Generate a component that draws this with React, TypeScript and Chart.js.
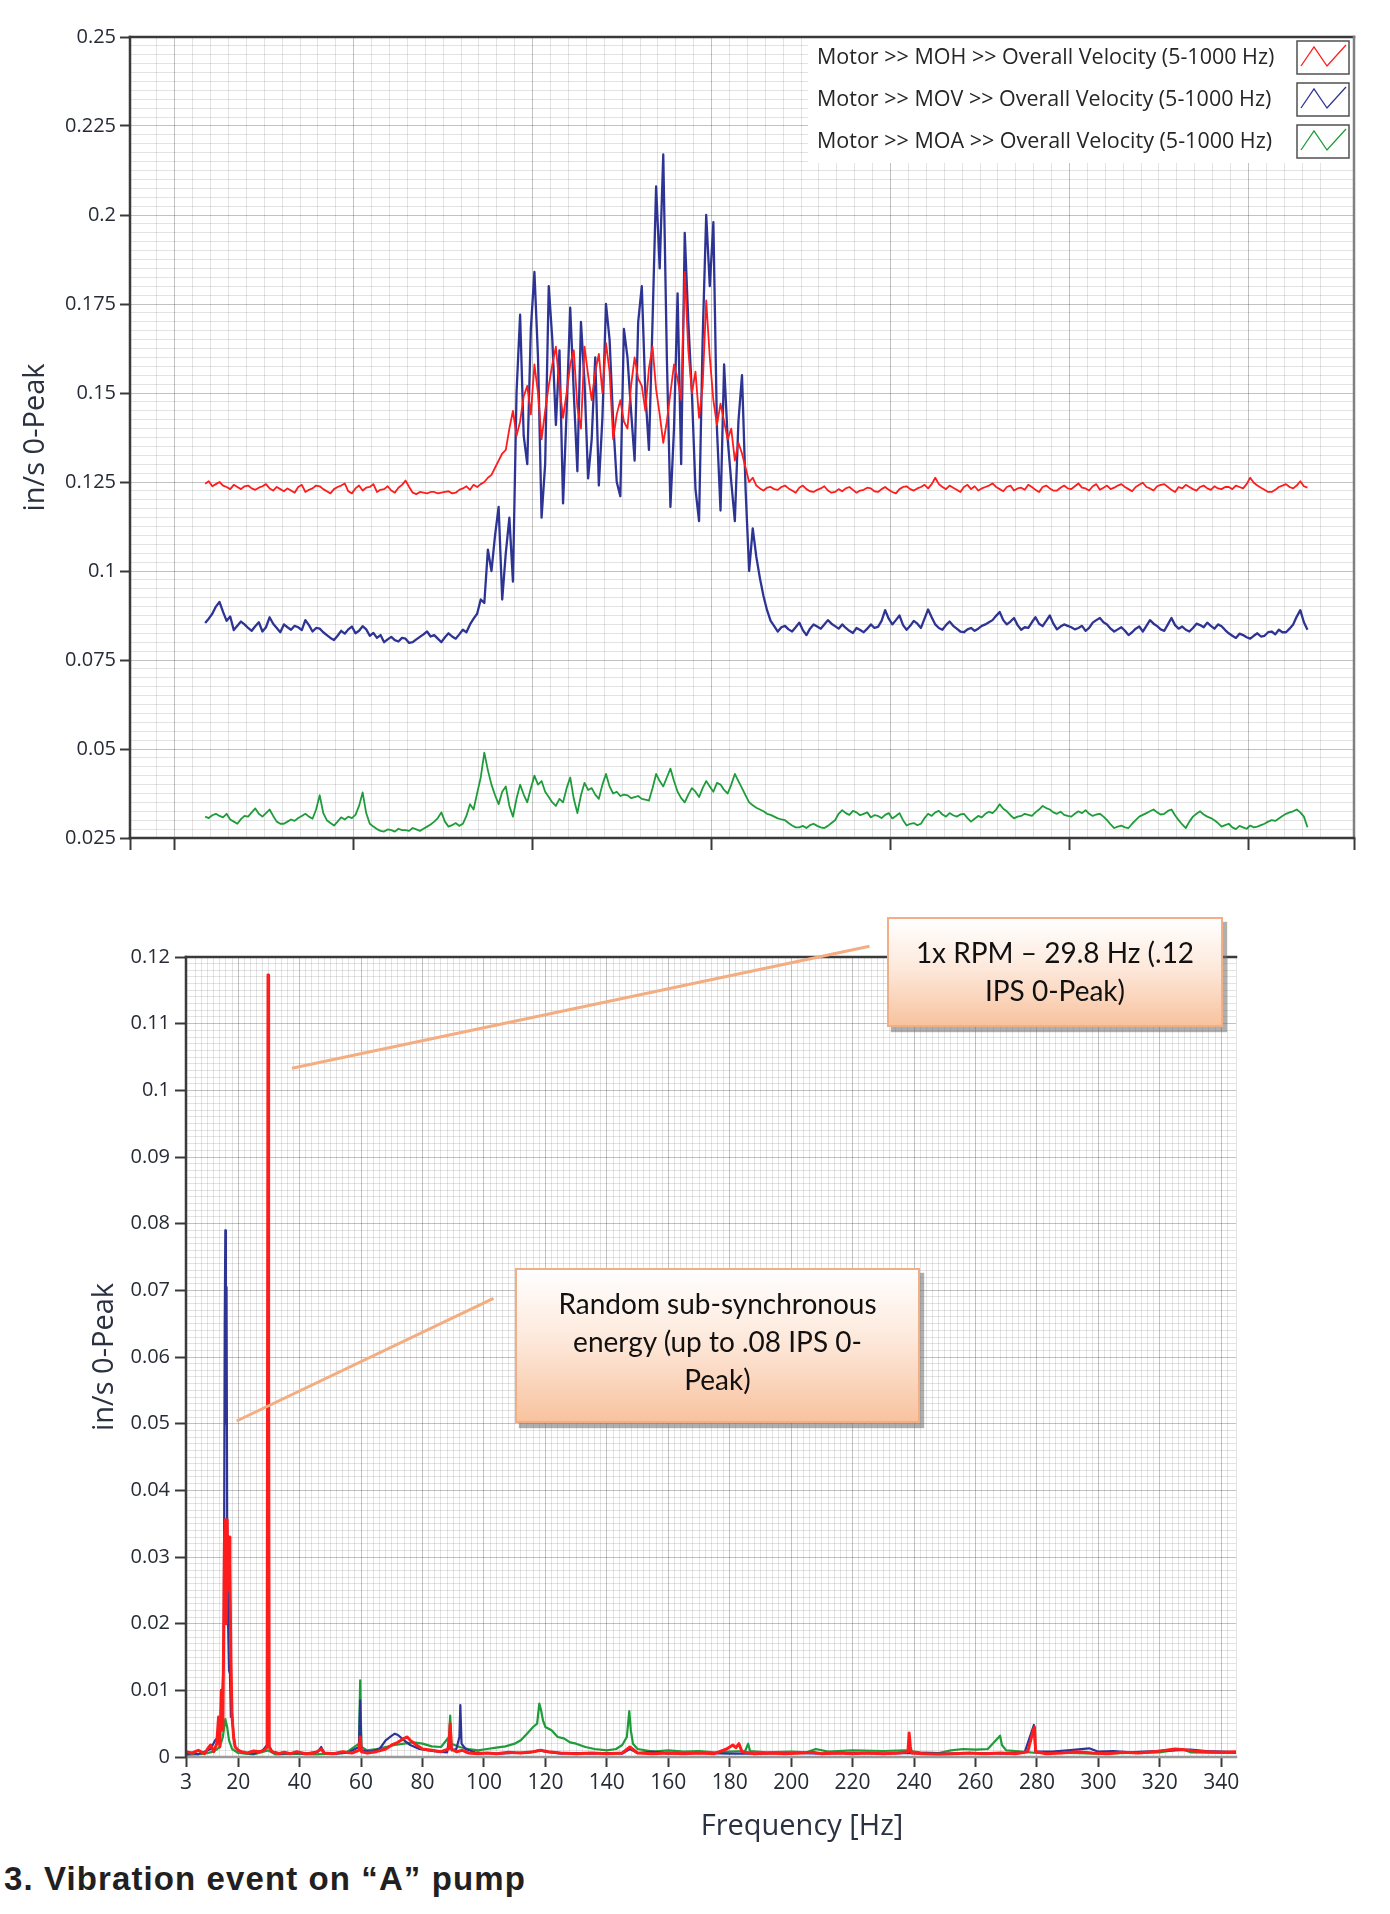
import React, { useEffect, useRef } from 'react';
import Chart from 'chart.js/auto';

// legend text + line colours, shared by both plots (MOH, MOV, MOA)
const seriesLabels = [
  'Motor >> MOH >> Overall Velocity (5-1000 Hz)',
  'Motor >> MOV >> Overall Velocity (5-1000 Hz)',
  'Motor >> MOA >> Overall Velocity (5-1000 Hz)',
];
const seriesColors = ['#ff1c1c', '#2e3494', '#1f9c3a'];

// ---- overall velocity trend (top plot), one value per sample ----
const trendStart = 17;
const trendStep = 2;

const mohTrend = [
  0.1245, 0.1252, 0.1238, 0.1244, 0.1250, 0.1240, 0.1236, 0.1230, 0.1242, 0.1236,
  0.1230, 0.1238, 0.1240, 0.1232, 0.1228, 0.1234, 0.1238, 0.1244, 0.1232, 0.1226,
  0.1236, 0.1230, 0.1224, 0.1232, 0.1226, 0.1220, 0.1236, 0.1242, 0.1222, 0.1228,
  0.1232, 0.1240, 0.1238, 0.1230, 0.1224, 0.1218, 0.1230, 0.1236, 0.1240, 0.1246,
  0.1224, 0.1218, 0.1232, 0.1240, 0.1226, 0.1234, 0.1236, 0.1244, 0.1222, 0.1228,
  0.1230, 0.1238, 0.1226, 0.1220, 0.1234, 0.1242, 0.1254, 0.1236, 0.1220, 0.1216,
  0.1222, 0.1220, 0.1218, 0.1222, 0.1222, 0.1218, 0.1220, 0.1222, 0.1224, 0.1218,
  0.1220, 0.1228, 0.1232, 0.1238, 0.1228, 0.1242,
  // event
  0.1236, 0.1244, 0.1250, 0.1262, 0.1270, 0.1290, 0.1310, 0.1330, 0.1340, 0.1400,
  0.1450, 0.1380, 0.1420, 0.1490, 0.1520, 0.1440, 0.1580, 0.1500, 0.1370, 0.1450,
  0.1520, 0.1580, 0.1630, 0.1520, 0.1430, 0.1500, 0.1580, 0.1620, 0.1460, 0.1400,
  0.1630, 0.1550, 0.1480, 0.1560, 0.1610, 0.1500, 0.1640, 0.1560, 0.1370, 0.1440,
  0.1480, 0.1420, 0.1400, 0.1520, 0.1600, 0.1540, 0.1520, 0.1450, 0.1570, 0.1630,
  0.1510, 0.1440, 0.1360, 0.1420, 0.1500, 0.1580, 0.1540, 0.1480, 0.1840, 0.1620,
  0.1500, 0.1560, 0.1430, 0.1520, 0.1760, 0.1600, 0.1480, 0.1410, 0.1470, 0.1420,
  0.1370, 0.1400, 0.1310, 0.1360, 0.1330, 0.1290, 0.1250, 0.1262, 0.1240, 0.1232,
  0.1226, 0.1234,
  // after
  0.1236, 0.1230, 0.1228, 0.1236, 0.1240, 0.1232, 0.1226, 0.1220, 0.1234, 0.1240,
  0.1230, 0.1224, 0.1222, 0.1228, 0.1232, 0.1238, 0.1226, 0.1220, 0.1222, 0.1230,
  0.1224, 0.1232, 0.1236, 0.1228, 0.1220, 0.1226, 0.1228, 0.1234, 0.1232, 0.1224,
  0.1222, 0.1230, 0.1236, 0.1228, 0.1222, 0.1218, 0.1230, 0.1236, 0.1238, 0.1230,
  0.1226, 0.1232, 0.1236, 0.1242, 0.1232, 0.1244, 0.1262, 0.1244, 0.1236, 0.1230,
  0.1240, 0.1234, 0.1228, 0.1222, 0.1236, 0.1242, 0.1230, 0.1238, 0.1226, 0.1232,
  0.1236, 0.1240, 0.1246, 0.1236, 0.1230, 0.1224, 0.1236, 0.1240, 0.1226, 0.1232,
  0.1234, 0.1228, 0.1242, 0.1236, 0.1228, 0.1222, 0.1236, 0.1240, 0.1232, 0.1226,
  0.1226, 0.1234, 0.1240, 0.1232, 0.1230, 0.1238, 0.1246, 0.1234, 0.1232, 0.1226,
  0.1238, 0.1244, 0.1228, 0.1234, 0.1240, 0.1230, 0.1234, 0.1240, 0.1244, 0.1236,
  0.1230, 0.1224, 0.1236, 0.1242, 0.1248, 0.1236, 0.1232, 0.1226, 0.1238, 0.1242,
  0.1244, 0.1236, 0.1228, 0.1222, 0.1236, 0.1232, 0.1242, 0.1236, 0.1230, 0.1226,
  0.1236, 0.1240, 0.1232, 0.1228, 0.1238, 0.1232, 0.1230, 0.1236, 0.1236, 0.1230,
  0.1240, 0.1236, 0.1232, 0.1244, 0.1262, 0.1248, 0.1240, 0.1234, 0.1228, 0.1222,
  0.1222, 0.1228, 0.1236, 0.1240, 0.1244, 0.1236, 0.1232, 0.1240, 0.1252, 0.1238,
  0.1234,
];

const movTrend = [
  0.0854, 0.0866, 0.0880, 0.0900, 0.0913, 0.0885, 0.0860, 0.0872, 0.0834, 0.0846,
  0.0858, 0.0850, 0.0840, 0.0832, 0.0845, 0.0856, 0.0830, 0.0842, 0.0870, 0.0852,
  0.0840, 0.0828, 0.0850, 0.0842, 0.0835, 0.0846, 0.0842, 0.0834, 0.0862, 0.0848,
  0.0830, 0.0840, 0.0838, 0.0828, 0.0820, 0.0812, 0.0806, 0.0818, 0.0832, 0.0824,
  0.0836, 0.0844, 0.0825, 0.0832, 0.0845, 0.0836, 0.0818, 0.0826, 0.0812, 0.0820,
  0.0800, 0.0808, 0.0815, 0.0806, 0.0802, 0.0812, 0.0810, 0.0798, 0.0800, 0.0808,
  0.0815, 0.0822, 0.0830, 0.0816, 0.0820, 0.0810, 0.0800, 0.0814, 0.0825, 0.0816,
  0.0810, 0.0822, 0.0835, 0.0828, 0.0850, 0.0866,
  // event
  0.0880, 0.0920, 0.0910, 0.1060, 0.1000, 0.1100, 0.1180, 0.0920, 0.1050, 0.1150,
  0.0970, 0.1500, 0.1720, 0.1380, 0.1300, 0.1680, 0.1840, 0.1600, 0.1150, 0.1300,
  0.1800, 0.1650, 0.1410, 0.1620, 0.1190, 0.1450, 0.1740, 0.1500, 0.1280, 0.1700,
  0.1530, 0.1260, 0.1370, 0.1600, 0.1240, 0.1430, 0.1750, 0.1650, 0.1420, 0.1250,
  0.1210, 0.1680, 0.1600, 0.1450, 0.1310, 0.1700, 0.1800, 0.1500, 0.1340, 0.1700,
  0.2080, 0.1850, 0.2170, 0.1600, 0.1180, 0.1400, 0.1780, 0.1300, 0.1950, 0.1700,
  0.1500, 0.1230, 0.1140, 0.1650, 0.2000, 0.1800, 0.1980, 0.1400, 0.1170, 0.1580,
  0.1370, 0.1250, 0.1140, 0.1420, 0.1550, 0.1230, 0.1000, 0.1120, 0.1040, 0.0980,
  0.0930, 0.0890, 0.0860, 0.0845, 0.0830, 0.0842,
  // after
  0.0846, 0.0836, 0.0830, 0.0842, 0.0855, 0.0834, 0.0820, 0.0838, 0.0850, 0.0844,
  0.0838, 0.0850, 0.0862, 0.0852, 0.0845, 0.0838, 0.0850, 0.0840, 0.0832, 0.0826,
  0.0840, 0.0834, 0.0828, 0.0838, 0.0850, 0.0840, 0.0843, 0.0860, 0.0890, 0.0866,
  0.0850, 0.0862, 0.0875, 0.0848, 0.0835, 0.0846, 0.0860, 0.0852, 0.0840, 0.0866,
  0.0892, 0.0870, 0.0850, 0.0840, 0.0835, 0.0848, 0.0858, 0.0846, 0.0838, 0.0830,
  0.0828, 0.0836, 0.0840, 0.0832, 0.0838, 0.0846, 0.0850, 0.0856, 0.0862, 0.0874,
  0.0885, 0.0862, 0.0850, 0.0858, 0.0868, 0.0848, 0.0835, 0.0842, 0.0840, 0.0856,
  0.0870, 0.0852, 0.0845, 0.0860, 0.0875, 0.0852, 0.0836, 0.0844, 0.0850, 0.0846,
  0.0842, 0.0836, 0.0840, 0.0846, 0.0832, 0.0840, 0.0855, 0.0862, 0.0868, 0.0856,
  0.0850, 0.0838, 0.0830, 0.0836, 0.0842, 0.0832, 0.0820, 0.0828, 0.0838, 0.0844,
  0.0830, 0.0846, 0.0862, 0.0852, 0.0845, 0.0836, 0.0832, 0.0850, 0.0868, 0.0848,
  0.0838, 0.0844, 0.0835, 0.0830, 0.0840, 0.0852, 0.0848, 0.0842, 0.0855, 0.0846,
  0.0838, 0.0850, 0.0845, 0.0834, 0.0825, 0.0818, 0.0812, 0.0824, 0.0820, 0.0814,
  0.0810, 0.0818, 0.0825, 0.0816, 0.0818, 0.0828, 0.0830, 0.0822, 0.0835, 0.0828,
  0.0828, 0.0838, 0.0850, 0.0872, 0.0890, 0.0856, 0.0835,
];

const moaTrend = [
  0.0310, 0.0306, 0.0314, 0.0318, 0.0312, 0.0308, 0.0318, 0.0302, 0.0296, 0.0290,
  0.0303, 0.0312, 0.0310, 0.0322, 0.0333, 0.0318, 0.0310, 0.0320, 0.0330, 0.0312,
  0.0296, 0.0290, 0.0290, 0.0296, 0.0302, 0.0298, 0.0306, 0.0312, 0.0318, 0.0310,
  0.0304, 0.0330, 0.0370, 0.0320, 0.0300, 0.0292, 0.0285, 0.0296, 0.0308, 0.0302,
  0.0310, 0.0306, 0.0315, 0.0340, 0.0378, 0.0320, 0.0290, 0.0282, 0.0275, 0.0270,
  0.0268, 0.0274, 0.0272, 0.0268, 0.0276, 0.0272, 0.0272, 0.0270, 0.0278, 0.0274,
  0.0270, 0.0276, 0.0282, 0.0288, 0.0296, 0.0306, 0.0322, 0.0296, 0.0282, 0.0286,
  0.0292, 0.0284, 0.0290, 0.0312, 0.0345, 0.0330,
  // event
  0.0376, 0.0420, 0.0490, 0.0440, 0.0400, 0.0370, 0.0345, 0.0380, 0.0395, 0.0340,
  0.0310, 0.0360, 0.0400, 0.0372, 0.0350, 0.0390, 0.0425, 0.0400, 0.0410, 0.0380,
  0.0365, 0.0350, 0.0340, 0.0360, 0.0350, 0.0390, 0.0420, 0.0360, 0.0320, 0.0370,
  0.0405, 0.0385, 0.0390, 0.0372, 0.0360, 0.0400, 0.0430, 0.0395, 0.0375, 0.0380,
  0.0368, 0.0372, 0.0370, 0.0362, 0.0365, 0.0368, 0.0360, 0.0358, 0.0355, 0.0390,
  0.0430, 0.0410, 0.0395, 0.0420, 0.0445, 0.0410, 0.0380, 0.0362, 0.0350, 0.0372,
  0.0390, 0.0380, 0.0365, 0.0390, 0.0410, 0.0395, 0.0380, 0.0405, 0.0400, 0.0385,
  0.0375, 0.0400, 0.0430, 0.0410, 0.0390, 0.0370, 0.0350, 0.0342, 0.0335, 0.0330,
  0.0325, 0.0318, 0.0315, 0.0310, 0.0305, 0.0302,
  // after
  0.0300, 0.0292, 0.0285, 0.0280, 0.0280, 0.0284, 0.0278, 0.0286, 0.0290, 0.0284,
  0.0280, 0.0278, 0.0284, 0.0292, 0.0300, 0.0318, 0.0328, 0.0320, 0.0315, 0.0326,
  0.0322, 0.0314, 0.0318, 0.0322, 0.0308, 0.0314, 0.0312, 0.0306, 0.0315, 0.0320,
  0.0305, 0.0312, 0.0320, 0.0300, 0.0285, 0.0290, 0.0292, 0.0286, 0.0290, 0.0306,
  0.0318, 0.0312, 0.0322, 0.0326, 0.0316, 0.0310, 0.0320, 0.0314, 0.0310, 0.0316,
  0.0318, 0.0306, 0.0296, 0.0304, 0.0312, 0.0308, 0.0318, 0.0324, 0.0320, 0.0330,
  0.0345, 0.0332, 0.0325, 0.0314, 0.0305, 0.0310, 0.0312, 0.0318, 0.0315, 0.0312,
  0.0322, 0.0330, 0.0340, 0.0334, 0.0330, 0.0322, 0.0318, 0.0324, 0.0315, 0.0312,
  0.0310, 0.0318, 0.0325, 0.0320, 0.0328, 0.0318, 0.0312, 0.0316, 0.0318, 0.0310,
  0.0300, 0.0288, 0.0278, 0.0282, 0.0285, 0.0280, 0.0278, 0.0290, 0.0300, 0.0310,
  0.0315, 0.0320, 0.0325, 0.0330, 0.0322, 0.0316, 0.0318, 0.0326, 0.0330, 0.0314,
  0.0300, 0.0288, 0.0278, 0.0296, 0.0310, 0.0318, 0.0325, 0.0316, 0.0310, 0.0306,
  0.0300, 0.0292, 0.0282, 0.0286, 0.0290, 0.0280, 0.0275, 0.0284, 0.0280, 0.0276,
  0.0285, 0.0280, 0.0282, 0.0286, 0.0290, 0.0296, 0.0300, 0.0298, 0.0305, 0.0312,
  0.0318, 0.0322, 0.0325, 0.0330, 0.0322, 0.0310, 0.0280,
];

const trendYTicks = [0.025, 0.05, 0.075, 0.1, 0.125, 0.15, 0.175, 0.2, 0.225, 0.25];
const trendXTicks = [0, 100, 200, 300, 400, 500, 600]; // unlabelled time divisions
const trendXRange = [-25, 659];

// ---- spectrum (bottom plot), [Hz, in/s 0-Peak] ----
const mohSpectrum: [number, number][] = [
  [3, 0.0008], [5, 0.0006], [7, 0.0010], [9, 0.0005], [10, 0.0012], [11, 0.0018], [12, 0.0008],
  [13, 0.0020], [13.6, 0.0060], [14, 0.0015], [14.5, 0.0100], [15, 0.0040], [15.5, 0.0320],
  [15.8, 0.0356], [16.1, 0.0200], [16.4, 0.0356], [16.7, 0.0250], [17, 0.0330], [17.3, 0.0290],
  [17.6, 0.0150], [18, 0.0060], [18.5, 0.0030], [19, 0.0015], [20, 0.0010], [21, 0.0008],
  [23, 0.0006], [25, 0.0009], [27, 0.0008], [28.5, 0.0010], [29.4, 0.0015], [29.7, 0.1173],
  [29.9, 0.0585], [30.1, 0.0015], [31, 0.0008], [33, 0.0005], [35, 0.0007], [37, 0.0005],
  [39, 0.0008], [42, 0.0005], [45, 0.0006], [47, 0.0012], [48, 0.0006], [51, 0.0005],
  [54, 0.0008], [57, 0.0006], [59.3, 0.0010], [59.7, 0.0030], [60.1, 0.0008], [62, 0.0006],
  [65, 0.0008], [68, 0.0012], [70, 0.0018], [72, 0.0022], [74, 0.0028], [75, 0.0030],
  [76, 0.0025], [78, 0.0018], [80, 0.0012], [83, 0.0010], [86, 0.0008], [88.5, 0.0012],
  [89, 0.0050], [89.4, 0.0012], [91, 0.0008], [93, 0.0010], [95, 0.0006], [98, 0.0005],
  [101, 0.0006], [104, 0.0005], [108, 0.0007], [112, 0.0006], [116, 0.0008], [118.5, 0.0010],
  [121, 0.0008], [125, 0.0006], [130, 0.0005], [135, 0.0006], [140, 0.0005], [145, 0.0006],
  [147.5, 0.0015], [150, 0.0006], [155, 0.0005], [160, 0.0006], [165, 0.0005], [170, 0.0006],
  [175, 0.0005], [179, 0.0012], [181, 0.0018], [182, 0.0014], [183, 0.0020], [184, 0.0008],
  [188, 0.0005], [193, 0.0006], [198, 0.0005], [203, 0.0006], [207, 0.0007], [210, 0.0005],
  [215, 0.0006], [220, 0.0005], [225, 0.0006], [230, 0.0005], [235, 0.0006], [238, 0.0008],
  [238.4, 0.0036], [238.8, 0.0015], [239.2, 0.0006], [243, 0.0005], [248, 0.0004], [253, 0.0005],
  [258, 0.0006], [263, 0.0005], [268, 0.0006], [273, 0.0005], [277, 0.0008], [278.8, 0.0040],
  [279.2, 0.0045], [279.6, 0.0008], [283, 0.0005], [288, 0.0006], [293, 0.0008], [298, 0.0006],
  [303, 0.0005], [308, 0.0007], [313, 0.0006], [318, 0.0008], [322, 0.0010], [325, 0.0012],
  [328, 0.0011], [331, 0.0009], [335, 0.0008], [340, 0.0007], [344.8, 0.0008],
];

const movSpectrum: [number, number][] = [
  [3, 0.0004], [5, 0.0006], [7, 0.0004], [9, 0.0008], [11, 0.0012], [12.5, 0.0025], [13.5, 0.0030],
  [14.2, 0.0045], [14.8, 0.0090], [15.3, 0.0150], [15.6, 0.0645], [15.8, 0.0790], [16, 0.0500],
  [16.2, 0.0705], [16.4, 0.0360], [16.7, 0.0200], [17, 0.0130], [17.3, 0.0125], [17.6, 0.0060],
  [18, 0.0065], [18.5, 0.0030], [19, 0.0015], [20, 0.0010], [22, 0.0006], [25, 0.0005],
  [28, 0.0010], [29.7, 0.0020], [31, 0.0008], [34, 0.0005], [38, 0.0006], [42, 0.0005],
  [46, 0.0008], [47, 0.0015], [48, 0.0006], [52, 0.0005], [56, 0.0007], [59.3, 0.0015],
  [59.7, 0.0085], [60.1, 0.0010], [63, 0.0008], [66, 0.0012], [68, 0.0025], [70, 0.0032],
  [71, 0.0035], [72, 0.0033], [74, 0.0025], [76, 0.0018], [79, 0.0012], [82, 0.0010],
  [85, 0.0008], [88, 0.0007], [89, 0.0040], [89.5, 0.0010], [91, 0.0012], [92, 0.0030],
  [92.3, 0.0078], [92.7, 0.0020], [94, 0.0012], [97, 0.0007], [100, 0.0006], [105, 0.0005],
  [110, 0.0006], [115, 0.0007], [118, 0.0010], [120, 0.0008], [125, 0.0005], [130, 0.0006],
  [135, 0.0005], [140, 0.0006], [145, 0.0005], [147.5, 0.0012], [150, 0.0006], [155, 0.0008],
  [160, 0.0005], [170, 0.0006], [180, 0.0005], [190, 0.0005], [200, 0.0006], [210, 0.0005],
  [220, 0.0006], [230, 0.0005], [240, 0.0006], [250, 0.0005], [260, 0.0006], [270, 0.0005],
  [276, 0.0007], [279, 0.0048], [279.5, 0.0008], [285, 0.0008], [290, 0.0010], [297, 0.0013],
  [300, 0.0008], [305, 0.0009], [310, 0.0007], [315, 0.0008], [320, 0.0009], [325, 0.0010],
  [330, 0.0011], [335, 0.0009], [340, 0.0008], [344.8, 0.0007],
];

const moaSpectrum: [number, number][] = [
  [3, 0.0003], [6, 0.0004], [9, 0.0005], [12, 0.0008], [14, 0.0015], [15, 0.0030], [15.8, 0.0057],
  [16.4, 0.0045], [17, 0.0025], [18, 0.0012], [20, 0.0006], [25, 0.0004], [29.7, 0.0010],
  [32, 0.0004], [38, 0.0005], [45, 0.0004], [50, 0.0005], [55, 0.0006], [59.3, 0.0020],
  [59.7, 0.0115], [60.1, 0.0015], [62, 0.0010], [65, 0.0012], [68, 0.0015], [71, 0.0018],
  [74, 0.0020], [77, 0.0022], [80, 0.0020], [83, 0.0016], [86, 0.0015], [88.6, 0.0030],
  [89, 0.0062], [89.4, 0.0020], [92, 0.0015], [95, 0.0012], [98, 0.0010], [101, 0.0012],
  [104, 0.0014], [107, 0.0016], [110, 0.0020], [112, 0.0025], [114, 0.0035], [116, 0.0045],
  [117.3, 0.0050], [118, 0.0080], [118.6, 0.0070], [119.2, 0.0055], [120, 0.0045], [122, 0.0040],
  [124, 0.0030], [126, 0.0028], [128, 0.0022], [130, 0.0020], [133, 0.0015], [136, 0.0012],
  [140, 0.0010], [143, 0.0012], [145, 0.0018], [146.5, 0.0030], [147.3, 0.0069], [147.8, 0.0040],
  [148.5, 0.0020], [150, 0.0012], [155, 0.0008], [160, 0.0010], [165, 0.0008], [170, 0.0009],
  [175, 0.0007], [180, 0.0008], [185, 0.0009], [186, 0.0020], [186.6, 0.0009], [192, 0.0007],
  [200, 0.0008], [205, 0.0007], [208, 0.0012], [212, 0.0008], [220, 0.0010], [230, 0.0009],
  [237, 0.0010], [242, 0.0007], [248, 0.0006], [252, 0.0010], [256, 0.0012], [260, 0.0011],
  [264, 0.0012], [268, 0.0032], [268.6, 0.0018], [270, 0.0010], [275, 0.0008], [280, 0.0006],
  [290, 0.0006], [300, 0.0005], [310, 0.0006], [320, 0.0007], [327, 0.0012], [330, 0.0007],
  [340, 0.0006], [344.8, 0.0006],
];

const spectrumXTicks = [3, 20, 40, 60, 80, 100, 120, 140, 160, 180, 200, 220, 240, 260, 280, 300, 320, 340];
const spectrumYTicks = [0, 0.01, 0.02, 0.03, 0.04, 0.05, 0.06, 0.07, 0.08, 0.09, 0.1, 0.11, 0.12];
const spectrumXRange = [3, 344.8];

// callout leader lines, in data units of the spectrum
const callouts = [
  { lines: ['1x RPM \u2013 29.8 Hz (.12', 'IPS 0-Peak)'], fromHz: 37.5, fromIps: 0.1033, toHz: 225.5, toIps: 0.1216 },
  { lines: ['Random sub-synchronous', 'energy (up to .08 IPS 0-', 'Peak)'], fromHz: 19.5, fromIps: 0.0504, toHz: 103.1, toIps: 0.0688 },
];

const captionText = '3. Vibration event on \u201cA\u201d pump';

const MAJOR_GRID = 'rgba(0,0,0,0.24)';
const MINOR_GRID = 'rgba(0,0,0,0.11)';
const AXIS_DARK = '#3a3a3a';
const LABEL = '#262b35';
const TITLE = '#2a3140';
const FONT = "'Open Sans', 'DejaVu Sans', sans-serif";

const near = (list: number[], v: number) => list.some((t) => Math.abs(t - v) < 1e-7);

// frame around the plot area, each side optional
const framePlugin = {
  id: 'frame',
  afterDraw(chart: any, _args: any, opts: any) {
    const { ctx, chartArea: a } = chart;
    const edge = (c: string | undefined, w: number, x1: number, y1: number, x2: number, y2: number) => {
      if (!c) return;
      ctx.strokeStyle = c;
      ctx.lineWidth = w;
      ctx.beginPath();
      ctx.moveTo(x1, y1);
      ctx.lineTo(x2, y2);
      ctx.stroke();
    };
    ctx.save();
    ctx.lineCap = 'square';
    edge(opts.top, opts.width, a.left, a.top, a.right, a.top);
    edge(opts.right, opts.width, a.right, a.top, a.right, a.bottom);
    edge(opts.bottom, opts.width, a.left, a.bottom, a.right, a.bottom);
    edge(opts.left, opts.width, a.left, a.top, a.left, a.bottom);
    ctx.restore();
  },
};

// LabVIEW style legend: text with a small zig-zag swatch on its right
const trendLegendPlugin = {
  id: 'trendLegend',
  afterDraw(chart: any) {
    const { ctx, chartArea: a } = chart;
    const boxLeft = a.right - 546;
    ctx.save();
    ctx.fillStyle = '#ffffff';
    ctx.fillRect(boxLeft, a.top, a.right - boxLeft, 126);
    ctx.font = `21.5px ${FONT}`;
    ctx.textBaseline = 'middle';
    chart.data.datasets.forEach((ds: any, k: number) => {
      const cy = a.top + 20 + 42 * k;
      ctx.fillStyle = '#262626';
      ctx.fillText(ds.label, a.right - 537, cy + 1);
      const ix = a.right - 57;
      const iy = cy - 16;
      ctx.strokeStyle = '#505050';
      ctx.lineWidth = 1.5;
      ctx.strokeRect(ix, iy, 52, 33);
      ctx.strokeStyle = ds.borderColor;
      ctx.lineWidth = 1.3;
      ctx.beginPath();
      ctx.moveTo(ix + 4, iy + 25);
      ctx.lineTo(ix + 17, iy + 6);
      ctx.lineTo(ix + 30, iy + 25);
      ctx.lineTo(ix + 49, iy + 4);
      ctx.stroke();
    });
    ctx.restore();
  },
};

// thin orange leader lines from the callout boxes
const leaderPlugin = {
  id: 'leaders',
  afterDraw(chart: any) {
    const { ctx, scales } = chart;
    ctx.save();
    ctx.strokeStyle = '#f3ad80';
    ctx.lineWidth = 3;
    callouts.forEach((c) => {
      ctx.beginPath();
      ctx.moveTo(scales.x.getPixelForValue(c.fromHz), scales.y.getPixelForValue(c.fromIps));
      ctx.lineTo(scales.x.getPixelForValue(c.toHz), scales.y.getPixelForValue(c.toIps));
      ctx.stroke();
    });
    ctx.restore();
  },
};

function trendConfig(): any {
  const trends = [mohTrend, movTrend, moaTrend];
  const widths = [1.8, 2.3, 1.8];
  return {
    type: 'line',
    data: {
      datasets: trends.map((values, k) => ({
        label: seriesLabels[k],
        data: values.map((v, i) => ({ x: trendStart + trendStep * i, y: v })),
        borderColor: seriesColors[k],
        borderWidth: widths[k],
        borderJoinStyle: 'round',
        pointRadius: 0,
        tension: 0,
        fill: false,
      })),
    },
    options: {
      animation: false,
      responsive: false,
      events: [],
      layout: { padding: { left: 0, top: 37, right: 36, bottom: 0 } },
      plugins: {
        legend: { display: false },
        tooltip: { enabled: false },
        frame: { width: 2.5, top: AXIS_DARK, left: AXIS_DARK, bottom: AXIS_DARK, right: '#808080' },
      },
      scales: {
        x: {
          type: 'linear',
          min: trendXRange[0],
          max: trendXRange[1],
          ticks: { stepSize: 10, display: false, autoSkip: false },
          grid: {
            color: (c: any) => (c.tick && near(trendXTicks, c.tick.value) ? MAJOR_GRID : MINOR_GRID),
            tickColor: (c: any) =>
              c.tick && (near(trendXTicks, c.tick.value) || near(trendXRange, c.tick.value)) ? AXIS_DARK : 'rgba(0,0,0,0)',
            tickWidth: 2,
            tickLength: 12,
          },
          border: { display: false },
          afterFit: (s: any) => {
            s.height = 42;
          },
        },
        y: {
          type: 'linear',
          min: 0.025,
          max: 0.25,
          ticks: {
            stepSize: 0.0025,
            autoSkip: false,
            padding: 4,
            color: LABEL,
            font: { family: FONT, size: 20 },
            callback: (v: number) => (near(trendYTicks, v) ? String(Number(v.toFixed(4))) : ''),
          },
          grid: {
            color: (c: any) => (c.tick && near(trendYTicks, c.tick.value) ? MAJOR_GRID : MINOR_GRID),
            tickColor: (c: any) => (c.tick && near(trendYTicks, c.tick.value) ? AXIS_DARK : 'rgba(0,0,0,0)'),
            tickWidth: 2,
            tickLength: 10,
          },
          border: { display: false },
          title: {
            display: true,
            text: 'in/s 0-Peak',
            color: TITLE,
            font: { family: FONT, size: 29 },
            padding: { top: 18, bottom: 0 },
          },
          afterFit: (s: any) => {
            s.width = 130;
          },
        },
      },
    },
    plugins: [trendLegendPlugin, framePlugin],
  };
}

function spectrumConfig(): any {
  const spectra = [mohSpectrum, movSpectrum, moaSpectrum];
  return {
    type: 'line',
    data: {
      datasets: spectra.map((pts, k) => ({
        label: seriesLabels[k],
        data: pts.map(([hz, ips]) => ({ x: hz, y: ips })),
        borderColor: seriesColors[k],
        borderWidth: k === 0 ? 3 : 2.2,
        borderJoinStyle: 'round',
        pointRadius: 0,
        tension: 0,
        fill: false,
        order: k,
      })),
    },
    options: {
      animation: false,
      responsive: false,
      events: [],
      layout: { padding: { left: 0, top: 57, right: 154, bottom: 0 } },
      plugins: {
        legend: { display: false },
        tooltip: { enabled: false },
        frame: { width: 2.5, top: AXIS_DARK, left: AXIS_DARK, bottom: '#9a9a9a' },
      },
      scales: {
        x: {
          type: 'linear',
          min: spectrumXRange[0],
          max: spectrumXRange[1],
          ticks: {
            stepSize: 2,
            autoSkip: false,
            maxRotation: 0,
            padding: 3,
            color: LABEL,
            font: { family: FONT, size: 21 },
            callback: (v: number) => (near(spectrumXTicks, v) ? String(v) : ''),
          },
          grid: {
            color: (c: any) => (c.tick && near(spectrumXTicks, c.tick.value) ? MAJOR_GRID : MINOR_GRID),
            tickColor: (c: any) => (c.tick && near(spectrumXTicks, c.tick.value) ? AXIS_DARK : 'rgba(0,0,0,0)'),
            tickWidth: 2,
            tickLength: 10,
          },
          border: { display: false },
          afterFit: (s: any) => {
            s.height = 93;
          },
        },
        y: {
          type: 'linear',
          min: 0,
          max: 0.12,
          ticks: {
            stepSize: 0.001,
            autoSkip: false,
            padding: 5,
            color: LABEL,
            font: { family: FONT, size: 20 },
            callback: (v: number) => (near(spectrumYTicks, v) ? String(Number(v.toFixed(3))) : ''),
          },
          grid: {
            color: (c: any) => (c.tick && near(spectrumYTicks, c.tick.value) ? MAJOR_GRID : MINOR_GRID),
            tickColor: (c: any) => (c.tick && near(spectrumYTicks, c.tick.value) ? AXIS_DARK : 'rgba(0,0,0,0)'),
            tickWidth: 2,
            tickLength: 11,
          },
          border: { display: false },
          title: {
            display: true,
            text: 'in/s 0-Peak',
            color: TITLE,
            font: { family: FONT, size: 29 },
            padding: { top: 87, bottom: 0 },
          },
          afterFit: (s: any) => {
            s.width = 186;
          },
        },
      },
    },
    plugins: [framePlugin, leaderPlugin],
  };
}

const calloutBoxes = [
  { left: 887, top: 917, width: 336, height: 110 },
  { left: 515, top: 1268, width: 405, height: 155 },
];

export default function App() {
  const trendRef = useRef<HTMLCanvasElement | null>(null);
  const spectrumRef = useRef<HTMLCanvasElement | null>(null);

  useEffect(() => {
    if (!trendRef.current || !spectrumRef.current) return;
    const trend = new Chart(trendRef.current, trendConfig());
    const spectrum = new Chart(spectrumRef.current, spectrumConfig());
    return () => {
      trend.destroy();
      spectrum.destroy();
    };
  }, []);

  return (
    <div style={{ position: 'absolute', left: 0, top: 0, width: 1390, height: 1914, background: '#fff', overflow: 'hidden' }}>
      <canvas ref={trendRef} width={1390} height={880} style={{ position: 'absolute', left: 0, top: 0, width: 1390, height: 880 }} />
      <canvas ref={spectrumRef} width={1390} height={950} style={{ position: 'absolute', left: 0, top: 900, width: 1390, height: 950 }} />
      <div
        style={{
          position: 'absolute',
          left: 652,
          top: 1809,
          width: 300,
          textAlign: 'center',
          fontFamily: FONT,
          fontSize: 29,
          lineHeight: '29px',
          color: TITLE,
          whiteSpace: 'nowrap',
        }}
      >
        Frequency [Hz]
      </div>
      {callouts.map((c, k) => (
        <div
          key={k}
          style={{
            position: 'absolute',
            boxSizing: 'border-box',
            ...calloutBoxes[k],
            paddingTop: 14,
            border: '2px solid #f2ae84',
            background: 'linear-gradient(to bottom, #ffffff 0%, #fde9dc 45%, #f8c39f 100%)',
            boxShadow: '4px 5px 1px rgba(110,110,110,0.55)',
            fontFamily: "Lato, 'Open Sans', sans-serif",
            fontSize: 28,
            lineHeight: '38px',
            color: '#111',
            textAlign: 'center',
          }}
        >
          {c.lines.map((line, i) => (
            <div key={i}>{line}</div>
          ))}
        </div>
      ))}
      <div
        style={{
          position: 'absolute',
          left: 4,
          top: 1862,
          fontFamily: "'Liberation Sans', Arial, sans-serif",
          fontWeight: 700,
          fontSize: 33,
          letterSpacing: 1.1,
          lineHeight: '33px',
          color: '#231f20',
          whiteSpace: 'nowrap',
        }}
      >
        {captionText}
      </div>
    </div>
  );
}
